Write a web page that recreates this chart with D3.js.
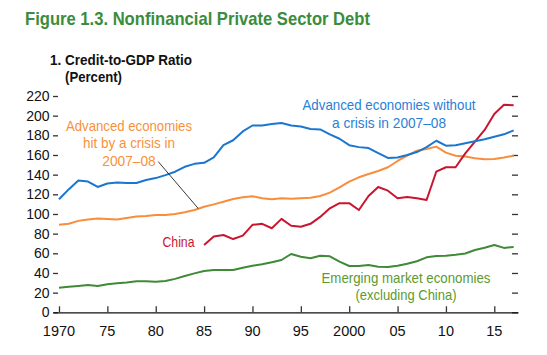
<!DOCTYPE html>
<html><head><meta charset="utf-8">
<script src="https://cdn.jsdelivr.net/npm/d3@7"></script>
<style>
body{margin:0;background:#fff;}
svg{display:block;}
text{font-family:"Liberation Sans",Arial,sans-serif;}
</style></head>
<body><svg id="c" width="547" height="355"></svg>
<script>
const years = d3.range(1970, 2018);
const chinaYears = d3.range(1985, 2018);
const advNoCrisis = [115,125,134,133,127.5,131,132,131.5,131.5,134.5,136.5,139.5,143,148,151,152,157.5,170,175,184,190,190,191.5,192.5,190,189,186.5,186,181,176.5,170,168,167,162,157,157.5,160,163,168,174.5,169.5,170,172,174,176,178.5,181,185];
const advCrisis = [89,90,93,94.5,95.5,95,94.5,96,97.5,98,99,99,100,101.7,104,107.4,109.8,112.5,115.3,117,118,116,115,116,115.5,116,116.5,118.3,121.7,127,132.9,137.3,140.7,143.7,147.5,153.9,159.3,164.4,166,168.5,162.4,159.3,158.5,156.7,155.6,156,157.5,159.3];
const china = [68.5,77,78.6,74.5,78,89,90,85.5,95,88,87,90,97,105.8,111,111,104,118.3,127.5,123.7,116,117.3,116,114.2,143,147.5,147.5,161.7,173.5,185.5,201.7,211,210.6];
const emerging = [25,26,26.8,27.8,26.8,28.5,29.5,30.2,31.5,31.5,31,31.8,34,36.9,39.6,42,43,43,43,45.4,47.4,48.8,50.9,53.2,59.3,56.5,55,57.6,57,51.5,47.1,47.1,48,46.4,46,47.4,49.4,51.9,55.9,57.2,57.5,58.5,59.8,63.4,65.7,68.5,65.5,66.5];
const yTicks = [0,20,40,60,80,100,120,140,160,180,200,220];
const xTicks = [1970,1975,1980,1985,1990,1995,2000,2005,2010,2015];
const xTickLabels = ["1970","75","80","85","90","95","2000","05","10","15"];

const svg = d3.select("#c");
const x = d3.scaleLinear().domain([1969.38, 2017.45]).range([53, 518]);
const y = d3.scaleLinear().domain([0, 220]).range([312.3, 96]);

function fitText(sel, w) {
  return sel.attr("textLength", w).attr("lengthAdjust", "spacingAndGlyphs");
}

// title
fitText(svg.append("text").attr("x", 25).attr("y", 25).attr("fill", "#3b8c3c")
  .attr("font-size", 18.5).attr("font-weight", "bold")
  .text("Figure 1.3. Nonfinancial Private Sector Debt"), 345);
fitText(svg.append("text").attr("x", 50).attr("y", 65).attr("fill", "#111")
  .attr("font-size", 14).attr("font-weight", "bold").text("1. Credit-to-GDP Ratio"), 142);
fitText(svg.append("text").attr("x", 65).attr("y", 82).attr("fill", "#111")
  .attr("font-size", 14).attr("font-weight", "bold").text("(Percent)"), 57);

// y axes (ticks only)
const yl = svg.append("g").attr("transform", "translate(53,0)")
  .call(d3.axisRight(y).tickValues(yTicks).tickSize(5).tickFormat(""));
yl.select(".domain").remove();
const yr = svg.append("g").attr("transform", "translate(518,0)")
  .call(d3.axisLeft(y).tickValues(yTicks).tickSize(6).tickFormat(""));
yr.select(".domain").remove();
svg.selectAll(".tick line").attr("stroke", "#333").attr("stroke-width", 1.3);
svg.append("g").selectAll("text").data(yTicks).join("text")
  .attr("x", 49.5).attr("y", d => y(d) + 5).attr("text-anchor", "end")
  .attr("font-size", 14).attr("fill", "#111").text(d => d);

// x axis
const xa = svg.append("g").attr("transform", "translate(0,312.3)")
  .call(d3.axisTop(x).tickValues(xTicks).tickSize(6).tickSizeOuter(0).tickFormat(""));
xa.select(".domain").attr("stroke", "#111").attr("stroke-width", 1.3);
xa.selectAll(".tick line").attr("stroke", "#333").attr("stroke-width", 1.3);
svg.append("g").selectAll("text").data(xTicks).join("text")
  .attr("x", d => x(d)).attr("y", 336).attr("text-anchor", "middle")
  .attr("font-size", 14.5).attr("fill", "#111").text((d, i) => xTickLabels[i]);

// lines
const line = d3.line().x(d => x(d[0])).y(d => y(d[1]));
function draw(yrs, vals, color) {
  svg.append("path").datum(yrs.map((t, i) => [t, vals[i]]))
    .attr("fill", "none").attr("stroke", color).attr("stroke-width", 2)
    .attr("stroke-linejoin", "round").attr("d", line);
}
draw(years, emerging, "#3f8a36");
draw(years, advCrisis, "#f98d3c");
draw(chinaYears, china, "#c8162f");
draw(years, advNoCrisis, "#1a76d0");

// leader line
svg.append("line").attr("x1", 158.3).attr("y1", 161.7).attr("x2", x(1984.4)).attr("y2", y(105.5))
  .attr("stroke", "#222").attr("stroke-width", 0.9);

// annotations
function label(lines, widths, cx, by, color, anchor) {
  lines.forEach((s, i) => {
    fitText(svg.append("text").attr("fill", color).attr("font-size", 15)
      .attr("text-anchor", anchor || "middle")
      .attr("x", cx).attr("y", by + i * 17.7).text(s), widths[i]);
  });
}
label(["Advanced economies", "hit by a crisis in", "2007–08"], [126, 92, 53.5], 129, 130.5, "#f7913d");
label(["Advanced economies without", "a crisis in 2007–08"], [173, 114], 389, 110, "#2a7fd6");
label(["China"], [32], 194.5, 246.5, "#c8162f", "end");
label(["Emerging market economies", "(excluding China)"], [169, 101], 406, 282.5, "#5b9a2e");
</script></body></html>
